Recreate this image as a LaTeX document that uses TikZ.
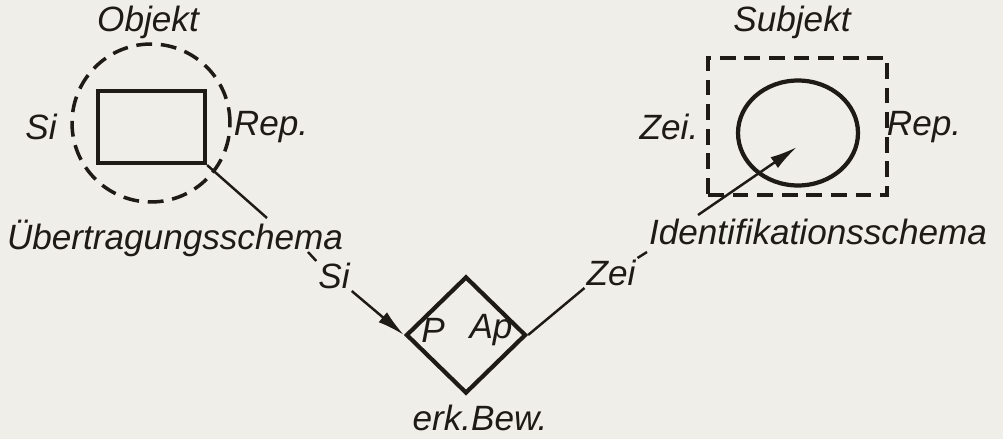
\documentclass[tikz,border=0pt]{standalone}
\usepackage{fontspec}
\setmainfont{Liberation Sans}
\usepackage{tikz}
\usetikzlibrary{arrows.meta,shapes.geometric}
\definecolor{paper}{RGB}{239,238,233}
\definecolor{ink}{RGB}{30,26,22}
\begin{document}
\begin{tikzpicture}[
			x=0.02cm, y=-0.02cm,
			label style/.style={
				font=\fontsize{20}{24}\selectfont\itshape,
				text=ink,
				inner sep=1pt
			},
			dash style/.style={draw=ink, line width=2pt, dash pattern=on 9pt off 5pt},
			solid box/.style={draw=ink, line width=2.4pt, inner sep=0pt},
			link/.style={draw=ink, line width=1.4pt},
			>={Latex[length=5.5mm,width=2.6mm]}
			]
			
			\fill[paper] (0,0) rectangle (1003,439);
			\useasboundingbox (0,0) rectangle (1003,439);
			
			\node[label style] (objlabel) at (148,22) {Objekt};
			\node[dash style, circle, minimum size=3.16cm] (objcirc) at (151,123) {};
			\node[solid box, rectangle, minimum width=2.14cm, minimum height=1.44cm] (objbox) at (151.5,127) {};
			\node[label style] (siL) at (41,127) {Si};
			\node[label style] (repL) at (271,127) {Rep.};
			\node[label style] (ueb) at (175,238) {Übertragungsschema};
			\coordinate (uebtop) at (267,218);
			\coordinate (uebend) at (308,252);
			
			\node[label style] (subjlabel) at (792,22) {Subjekt};
			\node[dash style, rectangle, minimum width=3.58cm, minimum height=2.74cm] (subjbox) at (797.5,126.5) {};
			\node[solid box, ellipse, minimum width=2.4cm, minimum height=2.1cm] (subjcirc) at (798,133) {};
			\node[label style] (zeiR) at (669,127) {Zei.};
			\node[label style] (repR) at (924,127) {Rep.};
			\node[label style] (ident) at (818,232) {Identifikationsschema};
			\coordinate (identtop) at (698,215);
			\coordinate (identend) at (647,252);
			\coordinate (subjmid) at (797,147);
			
			\node[solid box, diamond, minimum width=2.4cm, minimum height=2.34cm] (erk) at (466,335) {};
			\node[label style] (P) at (433,330) {P};
			\node[label style] (Ap) at (491,330) {Ap};
			\node[label style] (erklabel) at (480,418) {erk.Bew.};
			\node[label style] (siB) at (334,276) {Si};
			\node[label style] (zeiB) at (611,273) {Zei};
			
			\draw[link] (objbox.south east) -- (uebtop);
			\draw[link] (uebend) -- (siB.north west);
			\draw[link, ->] (siB.south east) -- (erk.west);
			\draw[link] (erk.east) -- (zeiB.south west);
			\draw[link] (zeiB.north east) -- (identend);
			\draw[link, ->] (identtop) -- (subjmid);
			
		\end{tikzpicture}
\end{document}
